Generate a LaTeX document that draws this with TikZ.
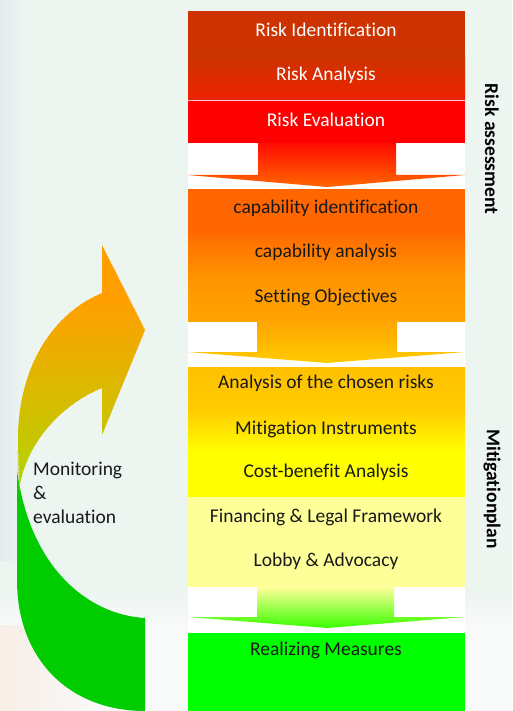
\documentclass[tikz,border=0pt]{standalone}
\usepackage{fontspec}
\setmainfont{Carlito}[Ligatures={NoCommon,NoContextual},RawFeature={-liga;-clig;-dlig;-calt}]
\newcommand\nolig{\kern0pt }
\begin{document}
\begin{tikzpicture}[x=1pt,y=-1pt,
  lbl/.style={inner sep=0pt,font=\fontsize{19.5}{24}\selectfont},
  wlbl/.style={lbl,text=white},
  blbl/.style={lbl,text=black!90},
  side/.style={lbl,font=\fontsize{19.5}{24}\selectfont\bfseries,rotate=-90}]
\definecolor{bg}{HTML}{EDF5F1}
\definecolor{bgb}{HTML}{E2EBEF}
\definecolor{bgw}{HTML}{F8F9F9}
\definecolor{bgp}{HTML}{F8EEE6}
\definecolor{cA}{HTML}{CC3300}
\definecolor{cB}{HTML}{EE2200}
\definecolor{cC}{HTML}{FF0000}
\definecolor{oA}{HTML}{FF6600}
\definecolor{oB}{HTML}{FF9400}
\definecolor{oC}{HTML}{FFA400}
\definecolor{gA}{HTML}{FFC000}
\definecolor{gB}{HTML}{FFCC00}
\definecolor{yA}{HTML}{FFFF00}
\definecolor{yL}{HTML}{FFFF99}
\definecolor{grn}{HTML}{00FF00}
\definecolor{dgrn}{HTML}{00CC00}
\definecolor{arrTop}{HTML}{FFA000}
\definecolor{arrBot}{HTML}{B0D600}
\useasboundingbox (0,0) rectangle (512,711);
% background
\fill[bg] (0,0) rectangle (512,711);
\shade[top color=bg,bottom color=bgw] (0,590) rectangle (512,625);
\fill[bgw] (0,625) rectangle (512,711);
\shade[left color=bgp,right color=bgw] (0,625) rectangle (100,711);
\shade[left color=bgb,right color=bg] (0,0) rectangle (24,560);
% column gaps (white)
\fill[white] (188,143) rectangle (465,189);
\fill[white] (188,321) rectangle (465,367);
\fill[white] (188,587) rectangle (465,633);
% block 1
\fill[cA] (188,11) rectangle (465,56);
\shade[top color=cA,bottom color=cB] (188,56) rectangle (465,100);
\fill[cC] (188,100) rectangle (465,143);
\draw[white!80!cC,line width=0.6pt] (188,100) -- (465,100);
% arrow 1
\shade[top color=red!90!orange,bottom color=oA]
  (258,143) -- (396,143) -- (396,175) -- (465,175) -- (327,187) -- (188,175) -- (258,175) -- cycle;
% block 2
\fill[oA] (188,189) rectangle (465,233);
\shade[top color=oA!90!oB,bottom color=oB] (188,233) rectangle (465,277);
\shade[top color=oB,bottom color=oC] (188,277) rectangle (465,321);
% arrow 2
\shade[top color=oC,bottom color=gB]
  (257,321) -- (397,321) -- (397,352) -- (465,352) -- (327,363) -- (188,352) -- (257,352) -- cycle;
% block 3
\shade[top color=gA,bottom color=gB] (188,367) rectangle (465,410);
\shade[top color=gB,bottom color=yA] (188,410) rectangle (465,452);
\fill[yA] (188,452) rectangle (465,497);
\fill[yL] (188,497) rectangle (465,587);
% arrow 3
\shade[top color=yL,bottom color=green!70!lime]
  (257,587) -- (394,587) -- (394,617) -- (465,617) -- (327,628) -- (188,617) -- (257,617) -- cycle;
% block 4
\fill[grn] (188,633) rectangle (465,711);
% curved arrow: lower green band
\fill[dgrn] (17,450) -- (17,580) .. controls (17,660) and (70,711) .. (145,711)
  -- (145,618) .. controls (90,615) and (30,570) .. (17,470) -- cycle;
% curved arrow: upper band with head (stepped gradient)
\begin{scope}
\clip (145,330) -- (102,245) -- (102,293) .. controls (50,315) and (18,370) .. (18,440)
  -- (19,490) .. controls (25,445) and (60,405) .. (102,388) -- (102,435) -- cycle;
\foreach \yy in {240,244,...,492}{
  \pgfmathtruncatemacro\pp{max(0,min(100,(\yy-300)/1.9))}
  \fill[arrBot!\pp!arrTop] (10,\yy) rectangle (150,\yy+4.6);
}
\end{scope}
% texts
\node[wlbl] (t1) at (326,30) {Risk Ident\nolig i\nolig f\nolig icat\nolig ion};
\node[wlbl] (t2) at (326,75) {Risk Analysis};
\node[wlbl] (t3) at (326,120) {Risk Evaluat\nolig ion};
\node[blbl] (t4) at (326,208) {capability ident\nolig i\nolig f\nolig icat\nolig ion};
\node[blbl] (t5) at (326,252) {capability analysis};
\node[blbl] (t6) at (326,297) {Set\nolig t\nolig ing Object\nolig ives};
\node[blbl] (t7) at (326,383) {Analysis of the chosen risks};
\node[blbl] (t8) at (326,429) {Mit\nolig igat\nolig ion Instruments};
\node[blbl] (t9) at (326,472) {Cost-bene\nolig f\nolig it Analysis};
\node[blbl] (t10) at (326,517) {Financing \& Legal Framework};
\node[blbl] (t11) at (326,561) {Lobby \& Advocacy};
\node[blbl] (t12) at (326,650) {Realizing Measures};
\node[side] (s1) at (492,149) {Risk assessment};
\node[side] (s2) at (492,489) {Mit\nolig igat\nolig ionplan};
\node[blbl,align=left,anchor=west] (m) at (33,493) {Monitoring\\\&\\evaluat\nolig ion};
\end{tikzpicture}
\end{document}
